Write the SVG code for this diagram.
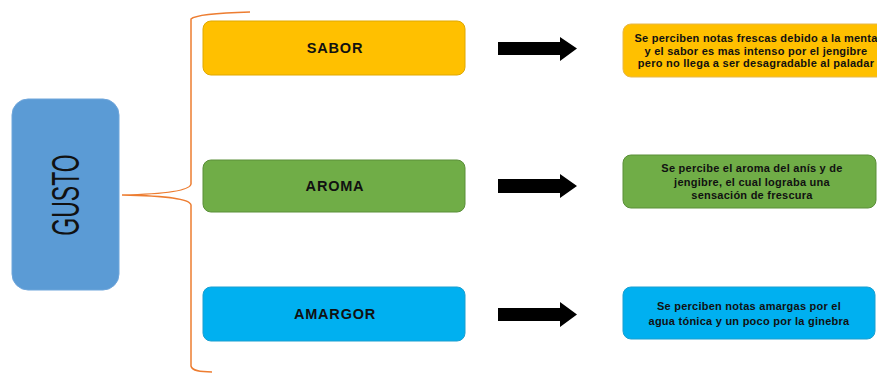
<svg xmlns="http://www.w3.org/2000/svg" width="877" height="374" viewBox="0 0 877 374">
<style>
.lbl{font-family:"Liberation Sans",Arial,sans-serif;font-weight:bold;font-size:14.5px;letter-spacing:0.8px;fill:#111;text-anchor:middle;dominant-baseline:central}
.desc{font-family:"Liberation Sans",Arial,sans-serif;font-weight:bold;font-size:11px;letter-spacing:0.25px;fill:#111;text-anchor:middle;dominant-baseline:central}
.brace{fill:none;stroke:#ED7D31;stroke-width:1.5}
.arrow{fill:#000}
</style>
<rect width="877" height="374" fill="#fff"/>
<g id="connectors">
<path class="brace" d="M250,12 C215,13 195,15 191,19 L191,184 C190,190 170,194 122,195 C170,196 190,199 191,205 L191,366 C192,371 200,372 212,372"/>
<path id="arrow1" class="arrow" d="M498,42 L560,42 L560,37 L577,48.5 L560,61 L560,55 L498,55 Z"/>
<path id="arrow2" class="arrow" d="M498,179 L560,179 L560,174 L577,186 L560,198 L560,193 L498,193 Z"/>
<path id="arrow3" class="arrow" d="M498,308 L560,308 L560,302 L577,314.5 L560,327 L560,321 L498,321 Z"/>
</g>
<g id="gusto">
<rect x="12" y="99" width="107" height="191" rx="16" fill="#5B9BD5" stroke="#6fa6db" stroke-width="1"/>
<text transform="translate(66,195) rotate(-90) scale(1,1.65)" font-family="Liberation Sans,Arial,sans-serif" font-size="23" fill="#111" text-anchor="middle" dominant-baseline="central">GUSTO</text>
</g>
<g id="sabor">
<rect x="203" y="21" width="262" height="54" rx="8" fill="#FFC000" stroke="#e0a800" stroke-width="1"/>
<text class="lbl" x="335" y="48">SABOR</text>
</g>
<g id="aroma">
<rect x="203" y="160" width="262" height="52" rx="8" fill="#70AD47" stroke="#5a8f38" stroke-width="1"/>
<text class="lbl" x="335" y="186">AROMA</text>
</g>
<g id="amargor">
<rect x="203" y="287" width="262" height="54" rx="8" fill="#00B0F0" stroke="#1a9fd0" stroke-width="1"/>
<text class="lbl" x="335" y="314">AMARGOR</text>
</g>
<g id="sabor-desc">
<rect x="623" y="24" width="262" height="53" rx="8" fill="#FFC000" stroke="#e6b84d" stroke-width="1"/>
<text class="desc" x="756" y="38">Se perciben notas frescas debido a la menta</text>
<text class="desc" x="756" y="51">y el sabor es mas intenso por el jengibre</text>
<text class="desc" x="756" y="63">pero no llega a ser desagradable al paladar</text>
</g>
<g id="aroma-desc">
<rect x="623" y="155" width="253" height="53" rx="8" fill="#70AD47" stroke="#5a8f38" stroke-width="1"/>
<text class="desc" x="752" y="168">Se percibe el aroma del anís y de</text>
<text class="desc" x="752" y="182">jengibre, el cual lograba una</text>
<text class="desc" x="752" y="195">sensación de frescura</text>
</g>
<g id="amargor-desc">
<rect x="623" y="287" width="252" height="52" rx="8" fill="#00B0F0" stroke="#1a9fd0" stroke-width="1"/>
<text class="desc" x="749" y="306">Se perciben notas amargas por el</text>
<text class="desc" x="749" y="321">agua tónica y un poco por la ginebra</text>
</g>
</svg>
